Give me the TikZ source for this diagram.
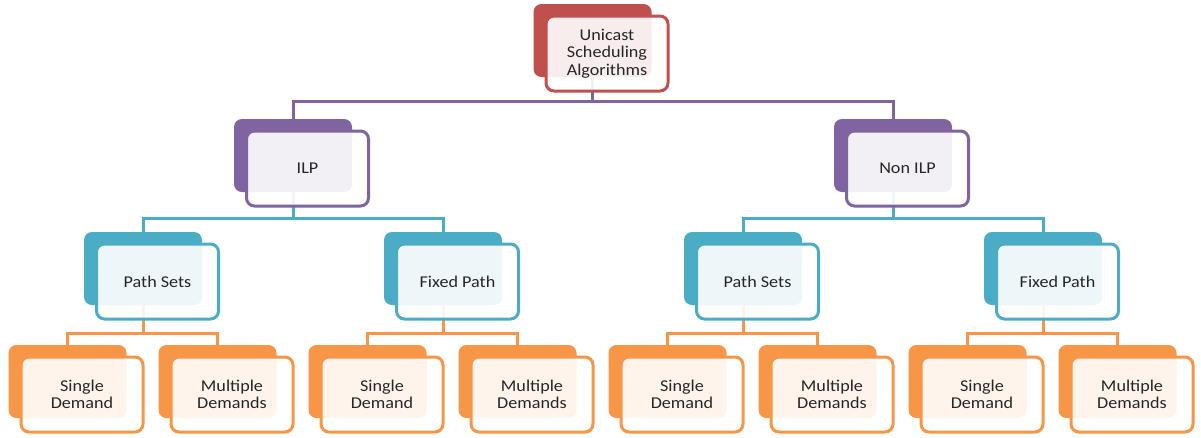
\documentclass[tikz,border=0pt]{standalone}
\usepackage{fontspec}
\setmainfont[FakeStretch=1.1]{Carlito}
\definecolor{cRed}{HTML}{C0504D}
\definecolor{cPurple}{HTML}{8064A2}
\definecolor{cBlue}{HTML}{4BACC6}
\definecolor{cOrange}{HTML}{F79646}
\definecolor{cText}{HTML}{262626}
\pgfdeclarelayer{bg}
\pgfsetlayers{bg,main}
\newcommand\tbox[5]{%
  \node[back, fill=#4] (#1B) at (#2,#3) {};
  \node[front, draw=#4] (#1) at ([shift={(14.5,13)}]#1B.center) {#5};
}
\begin{document}
\begin{tikzpicture}[x=1pt,y=-1pt,
  back/.style={rectangle, rounded corners=8pt, minimum width=118pt, minimum height=73pt, inner sep=0pt, outer sep=0pt},
  front/.style={rectangle, rounded corners=8pt, line width=3pt, fill=white, fill opacity=0.9, text opacity=1,
    minimum width=122pt, minimum height=75pt, inner sep=0pt, outer sep=0pt, align=center,
    font=\fontsize{16.5}{17.5}\selectfont, text=cText},
  conn/.style={line width=3pt}]
\useasboundingbox (0,0) rectangle (1201,437);

\tbox{root}{592.5}{40.5}{cRed}{Unicast\\Scheduling\\Algorithms}
\tbox{ilp}{293}{155.5}{cPurple}{ILP}
\tbox{nonilp}{893}{155.5}{cPurple}{Non ILP}
\tbox{psa}{143}{268.5}{cBlue}{Path Sets}
\tbox{fpa}{443}{268.5}{cBlue}{Fixed Path}
\tbox{psb}{743}{268.5}{cBlue}{Path Sets}
\tbox{fpb}{1043}{268.5}{cBlue}{Fixed Path}
\tbox{psas}{67.5}{381.5}{cOrange}{Single\\Demand}
\tbox{psam}{217.5}{381.5}{cOrange}{Multiple\\Demands}
\tbox{fpas}{367.5}{381.5}{cOrange}{Single\\Demand}
\tbox{fpam}{517.5}{381.5}{cOrange}{Multiple\\Demands}
\tbox{psbs}{667.5}{381.5}{cOrange}{Single\\Demand}
\tbox{psbm}{817.5}{381.5}{cOrange}{Multiple\\Demands}
\tbox{fpbs}{967.5}{381.5}{cOrange}{Single\\Demand}
\tbox{fpbm}{1117.5}{381.5}{cOrange}{Multiple\\Demands}

\begin{pgfonlayer}{bg}
\foreach \c in {ilp,nonilp}
  \draw[conn,draw=cPurple] (rootB.south) |- ([yshift=18pt]\c B.north) -- (\c B.north);
\foreach \p/\c in {ilp/psa,ilp/fpa,nonilp/psb,nonilp/fpb}
  \draw[conn,draw=cBlue] (\p B.south) |- ([yshift=14pt]\c B.north) -- (\c B.north);
\foreach \p/\c in {psa/psas,psa/psam,fpa/fpas,fpa/fpam,psb/psbs,psb/psbm,fpb/fpbs,fpb/fpbm}
  \draw[conn,draw=cOrange] (\p B.south) |- ([yshift=12pt]\c B.north) -- (\c B.north);
\end{pgfonlayer}
\end{tikzpicture}
\end{document}
